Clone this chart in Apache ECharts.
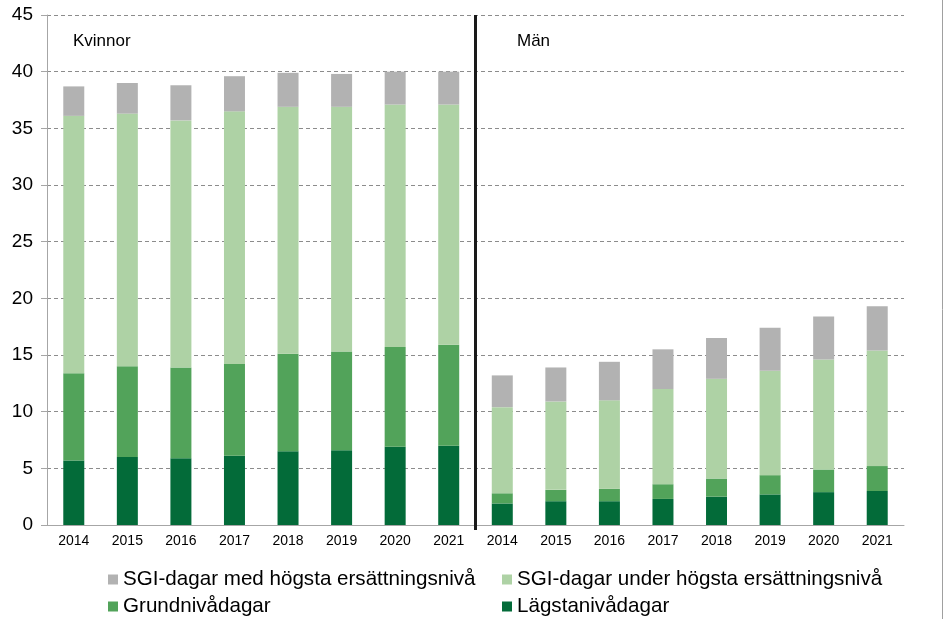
<!DOCTYPE html>
<html>
<head>
<meta charset="utf-8">
<script src="https://cdn.jsdelivr.net/npm/echarts@6/dist/echarts.min.js"></script>
<style>html,body{margin:0;padding:0;background:#fff}#c{width:944px;height:619px}</style>
</head>
<body>
<div id="c"></div>
<script>
var categories = ['2014','2015','2016','2017','2018','2019','2020','2021','2014','2015','2016','2017','2018','2019','2020','2021'];
var groupLabels = ['Kvinnor', 'Män'];
var yTicks = [0, 5, 10, 15, 20, 25, 30, 35, 40, 45];
var lagsta = [5.7, 6.0, 5.9, 6.1, 6.5, 6.6, 6.9, 7.0, 1.9, 2.1, 2.1, 2.3, 2.5, 2.7, 2.9, 3.0];
var grund  = [7.7, 8.0, 8.0, 8.1, 8.6, 8.7, 8.8, 8.9, 0.9, 1.0, 1.1, 1.3, 1.6, 1.7, 2.0, 2.2];
var sgiUnder = [22.7, 22.3, 21.8, 22.3, 21.8, 21.6, 21.4, 21.2, 7.6, 7.8, 7.8, 8.4, 8.8, 9.2, 9.7, 10.2];
var sgiMed = [2.6, 2.7, 3.1, 3.1, 3.0, 2.9, 2.9, 2.9, 2.8, 3.0, 3.4, 3.5, 3.6, 3.8, 3.8, 3.9];
var dividerAt = 8;

var names = ['SGI-dagar med högsta ersättningsnivå', 'SGI-dagar under högsta ersättningsnivå', 'Grundnivådagar', 'Lägstanivådagar'];
var colors = {gray:'#b2b2b2', light:'#aed2a5', mid:'#52a35a', dark:'#036b39'};

var chart = echarts.init(document.getElementById('c'), null, {renderer:'canvas'});
var font = 'Liberation Sans, Arial, sans-serif';
function bar(name, data, color) {
  return {name:name, type:'bar', stack:'s', data:data, barWidth:21, itemStyle:{color:color}, xAxisIndex:0, yAxisIndex:0};
}
var legendText = {fontSize:20.6, fontFamily:font, color:'#000'};
function leg(name, left, top) {
  return {data:[name], left:left, top:top, itemWidth:10, itemHeight:10, textStyle:legendText, icon:'rect', padding:0};
}
chart.setOption({
  animation:false,
  textStyle:{fontFamily:font},
  grid:{left:47, right:40, top:15, bottom:94},
  legend:[
    leg(names[0], 108, 569),
    leg(names[1], 502, 569),
    leg(names[2], 108, 596),
    leg(names[3], 502, 596)
  ],
  xAxis:[
    {type:'category', data:categories, axisLine:{lineStyle:{color:'#a6a6a6'}}, axisTick:{show:false},
     axisLabel:{fontSize:14, color:'#000', margin:9, interval:0}},
    {type:'value', min:0, max:categories.length, show:false}
  ],
  yAxis:{type:'value', min:0, max:45, interval:5,
    axisLine:{show:true, lineStyle:{color:'#a6a6a6'}},
    axisTick:{show:true, length:6, lineStyle:{color:'#a6a6a6'}},
    axisLabel:{fontSize:19, color:'#000', margin:14, formatter:function(v){return yTicks.indexOf(v)>=0?String(v):'';}},
    splitLine:{lineStyle:{color:'#8c8c8c', type:[4,3], width:1}}
  },
  series:[
    bar(names[3], lagsta, colors.dark),
    bar(names[2], grund, colors.mid),
    bar(names[1], sgiUnder, colors.light),
    bar(names[0], sgiMed, colors.gray),
    {type:'line', xAxisIndex:1, yAxisIndex:0, data:[[dividerAt,-0.45],[dividerAt,45]], symbol:'none', clip:false,
     lineStyle:{color:'#1a1a1a', width:3}, silent:true, z:5}
  ],
  graphic:[
    {type:'text', left:73, top:33, style:{text:groupLabels[0], fontSize:17, fontFamily:font, fill:'#000'}},
    {type:'text', left:517, top:33, style:{text:groupLabels[1], fontSize:17, fontFamily:font, fill:'#000'}},
    {type:'line', shape:{x1:942.5, y1:0, x2:942.5, y2:619}, style:{stroke:'#a0a0a0', lineWidth:1}}
  ]
});
</script>
</body>
</html>
